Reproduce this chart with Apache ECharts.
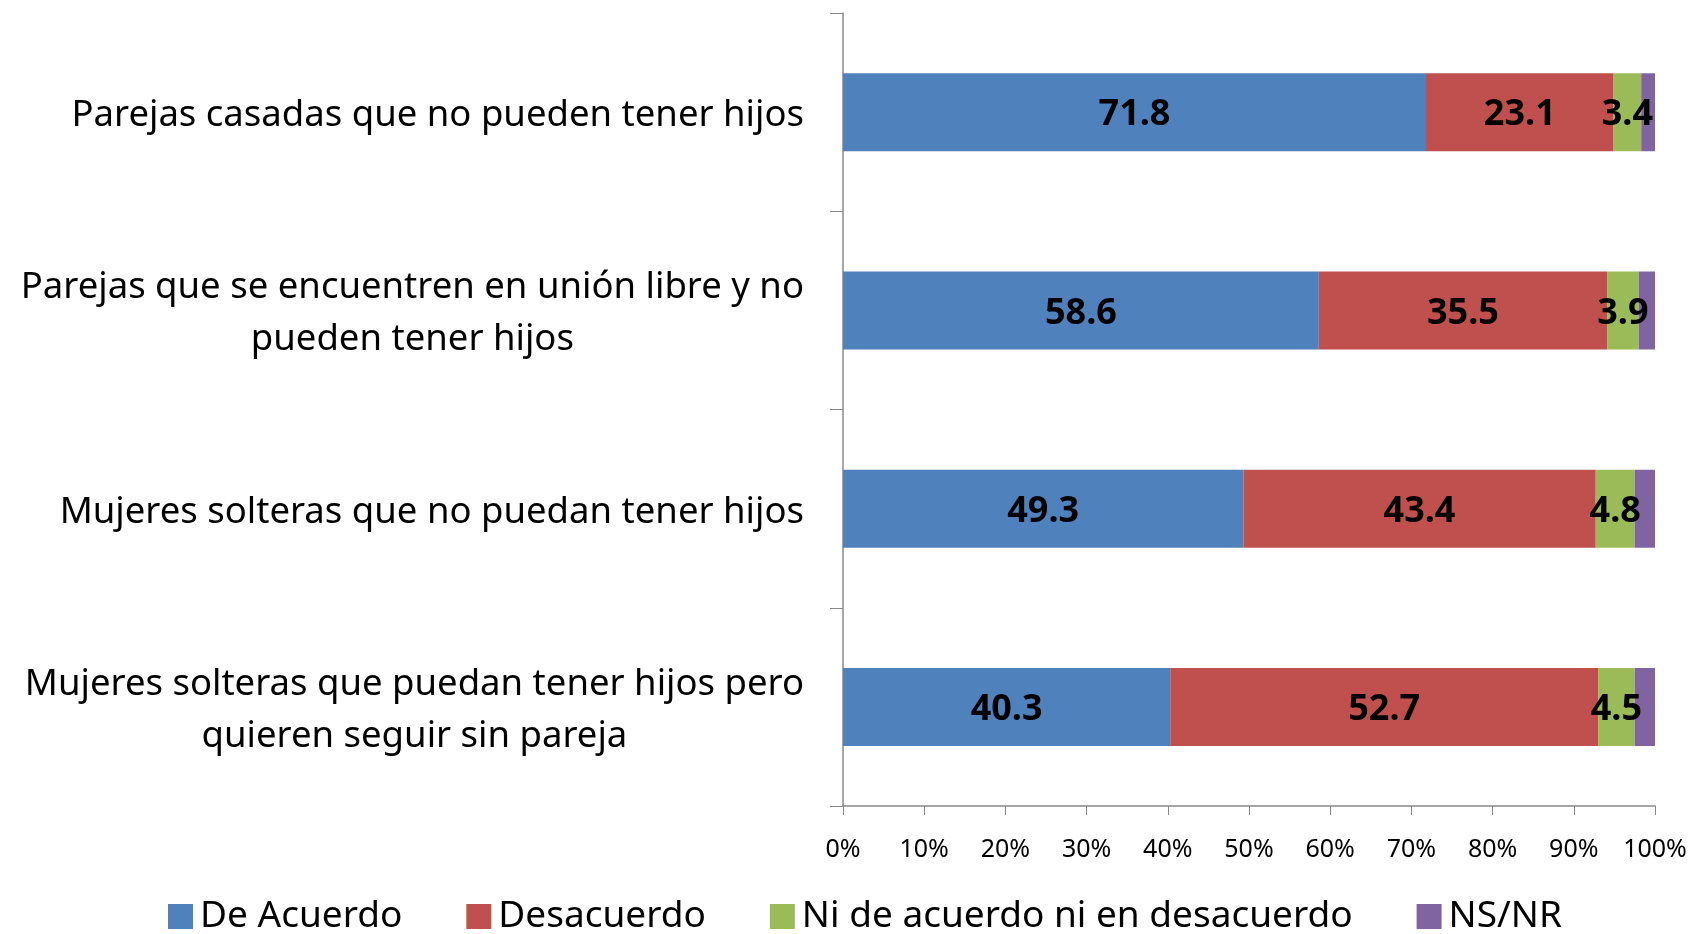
<!DOCTYPE html>
<html>
<head>
<meta charset="utf-8">
<script src="https://cdn.jsdelivr.net/npm/echarts@6/dist/echarts.min.js"></script>
<style>
  html, body { margin: 0; padding: 0; background: #fff; }
  #chart { width: 1696px; height: 934px; }
</style>
</head>
<body>
<div id="chart"></div>
<script>
const categories = [
  'Parejas casadas que no pueden tener hijos',
  'Parejas que se encuentren en unión libre y no\npueden tener hijos',
  'Mujeres solteras que no puedan tener hijos',
  'Mujeres solteras que puedan tener hijos pero\nquieren seguir sin pareja'
]
const deAcuerdo = [71.8, 58.6, 49.3, 40.3]
const desacuerdo = [23.1, 35.5, 43.4, 52.7]
const niNi = [3.4, 3.9, 4.8, 4.5]
const nsnr = [1.7, 2.0, 2.5, 2.5]
const xTicks = [0, 10, 20, 30, 40, 50, 60, 70, 80, 90, 100]

const chart = echarts.init(document.getElementById('chart'))

const labelStyle = {
  show: true,
  position: 'inside',
  offset: [0, 3],
  color: '#000',
  fontFamily: 'Noto Sans',
  fontWeight: 'bold',
  fontSize: 36,
  formatter: p => p.value.toFixed(1)
}

function bar(name, data, color, showLabel) {
  return {
    name,
    type: 'bar',
    stack: 'total',
    data,
    barWidth: 78,
    itemStyle: { color },
    label: showLabel ? labelStyle : { show: false }
  }
}

const option = {
  backgroundColor: '#fff',
  animation: false,
  grid: { left: 843, right: 41, top: 13, bottom: 128 },
  legend: {
    top: 893,
    left: 163,
    itemWidth: 25,
    itemHeight: 25,
    itemGap: 64,
    icon: 'rect',
    textStyle: { fontFamily: 'Noto Sans', fontSize: 37, color: '#000', padding: [0, 0, 0, 2] },
    data: ['De Acuerdo', 'Desacuerdo', 'Ni de acuerdo ni en desacuerdo', 'NS/NR']
  },
  xAxis: {
    type: 'value',
    min: xTicks[0],
    max: xTicks[xTicks.length - 1],
    interval: 10,
    axisLine: { show: true, lineStyle: { color: '#888', width: 1.5 } },
    axisTick: { show: true, length: 9, lineStyle: { color: '#888' } },
    splitLine: { show: false },
    axisLabel: {
      color: '#000',
      fontFamily: 'Noto Sans',
      fontSize: 25,
      margin: 31,
      formatter: v => v + '%'
    }
  },
  yAxis: {
    type: 'category',
    inverse: true,
    data: categories,
    axisLine: { show: true, lineStyle: { color: '#888', width: 1.5 } },
    axisTick: { show: true, length: 13, lineStyle: { color: '#888' } },
    axisLabel: {
      align: 'right',
      margin: 39,
      lineHeight: 52,
      padding: [7, 0, 0, 0],
      formatter: v => v.split('\n').map(l => '{c|' + l + '}').join('\n'),
      rich: {
        c: {
          align: 'center',
          color: '#000',
          fontFamily: 'Noto Sans',
          fontSize: 36.5,
          lineHeight: 52
        }
      }
    }
  },
  series: [
    bar('De Acuerdo', deAcuerdo, '#4F81BD', true),
    bar('Desacuerdo', desacuerdo, '#C0504D', true),
    bar('Ni de acuerdo ni en desacuerdo', niNi, '#9BBB59', true),
    bar('NS/NR', nsnr, '#8064A2', false)
  ]
}

chart.setOption(option)
</script>
</body>
</html>
